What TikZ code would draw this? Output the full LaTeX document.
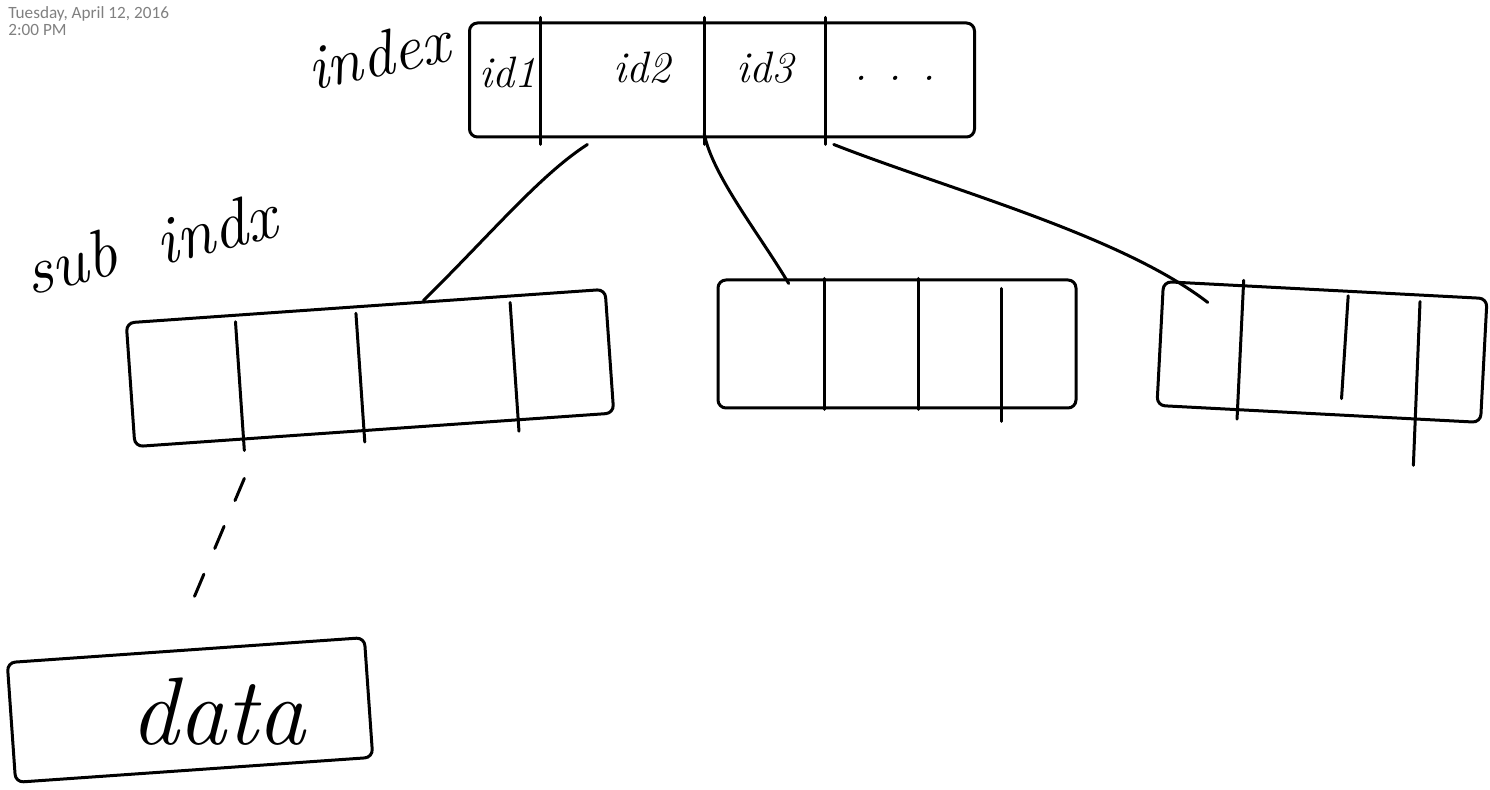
\documentclass[tikz,border=0pt]{standalone}
\usepackage{fontspec}
\newfontfamily\stampfont{Carlito}
\usetikzlibrary{calc}
\begin{document}
\begin{tikzpicture}[x=0.5pt,y=-0.5pt,
  box/.style={draw, line width=1.5pt, rounded corners=4pt, inner sep=0pt, line join=round},
  ink/.style={line width=1.5pt, line cap=round},
  hand/.style={font=\itshape\fontsize{#1}{#1}\selectfont, inner sep=0pt},
  stamp/.style={font=\stampfont\fontsize{8.6}{8.8}\selectfont, text=black!50, align=left, anchor=north west, inner sep=0pt}]
\useasboundingbox (0,0) rectangle (1490,790);
% timestamp
\node[stamp] (ts) at (8,6) {Tuesday, April 12, 2016\\2:00 PM};
% labels
\node[hand=32, rotate=12] (lidx) at (378,54) {index};
\node[hand=34, rotate=14] (lsub1) at (70,262) {sub};
\node[hand=34, rotate=14] (lsub2) at (215,228) {indx};
% index box
\node[box, minimum width=252.5pt, minimum height=57pt] (idx) at (722,80) {};
\foreach \f in {0.143,0.465,0.703}
  \draw[ink] ($(idx.north west)!\f!(idx.north east)+(0,-4)$) -- ($(idx.south west)!\f!(idx.south east)+(0,6)$);
\node[hand=22] (c1) at (508,72) {id1};
\node[hand=22] (c2) at (642,68) {id2};
\node[hand=22] (c3) at (765,68) {id3};
\node[hand=22] (c4) at (895,78) {. . .};
% sub index boxes
\node[box, minimum width=240pt, minimum height=62pt, rotate=4] (s1) at (370,368) {};
\foreach \f in {0.23,0.48,0.80}
  \draw[ink] ($(s1.north west)!\f!(s1.north east)+(0,8)$) -- ($(s1.south west)!\f!(s1.south east)+(0,10)$);
\node[box, minimum width=179pt, minimum height=64pt] (s2) at (897,344) {};
\foreach \f in {0.30,0.56}
  \draw[ink] ($(s2.north west)!\f!(s2.north east)$) -- ($(s2.south west)!\f!(s2.south east)$);
\draw[ink] ($(s2.north west)!0.79!(s2.north east)+(0,10)$) -- ($(s2.south west)!0.79!(s2.south east)+(0,12)$);
\node[box, minimum width=162pt, minimum height=62pt, rotate=-3] (s3) at (1322,352) {};
\draw[ink] ($(s3.north west)!0.25!(s3.north east)+(0,-4)$) -- ($(s3.south west)!0.25!(s3.south east)+(0,8)$);
\draw[ink] ($(s3.north west)!0.57!(s3.north east)+(0,6)$) -- ($(s3.south west)!0.57!(s3.south east)+(0,-18)$);
\draw[ink] ($(s3.north west)!0.79!(s3.north east)+(0,8)$) -- ($(s3.south west)!0.79!(s3.south east)+(0,45)$);
% data box
\node[box, minimum width=179pt, minimum height=60pt, rotate=4] (data) at (190,710) {};
\node[hand=48] (dtxt) at (218,712) {data};
% connectors
\draw[ink] ($(idx.south west)!0.235!(idx.south east)+(0,6)$) .. controls (540,175) and (490,235) .. ($(s1.north west)!0.62!(s1.north east)$);
\draw[ink] ($(idx.south west)!0.465!(idx.south east)+(0,-5)$) .. controls (712,175) and (760,235) .. ($(s2.north west)!0.2!(s2.north east)+(0,5)$);
\draw[ink] ($(idx.south west)!0.72!(idx.south east)+(0,6)$) .. controls (950,190) and (1120,235) .. ($(s3.north west)!0.14!(s3.north east)+(0,20)$);
\draw[ink, dash pattern=on 12pt off 14pt] ($(s1.south west)!0.23!(s1.south east)+(0,38)$) -- ($(data.north west)!0.52!(data.north east)+(0,-48)$);
\end{tikzpicture}
\end{document}
